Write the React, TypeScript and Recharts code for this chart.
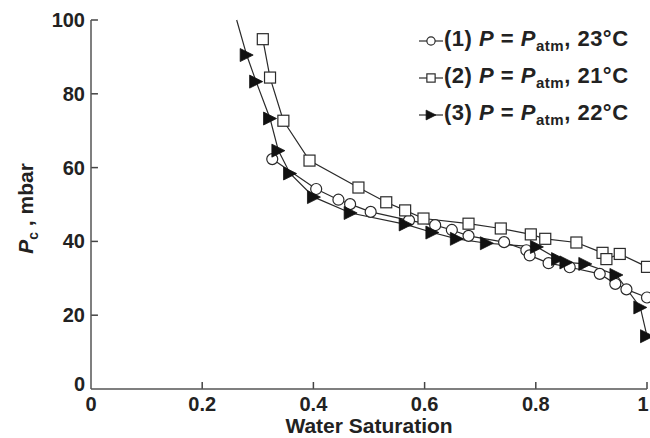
import React from 'react';
import { LineChart, Line, XAxis, YAxis, Legend, ReferenceLine } from 'recharts';

// water saturation (x) and capillary pressure Pc in mbar (y)
const sat1 = [0.326, 0.405, 0.445, 0.466, 0.503, 0.572, 0.619, 0.649, 0.679, 0.743, 0.783, 0.789, 0.823, 0.861, 0.915, 0.943, 0.963, 1.0];
const pc1 = [62.3, 54.2, 51.3, 50.1, 48.0, 45.7, 44.4, 43.1, 41.5, 39.8, 37.6, 36.2, 34.1, 33.0, 31.2, 28.5, 27.0, 24.8];

const sat2 = [0.309, 0.322, 0.346, 0.393, 0.481, 0.531, 0.565, 0.598, 0.679, 0.737, 0.791, 0.817, 0.873, 0.920, 0.927, 0.951, 1.0];
const pc2 = [94.8, 84.4, 72.7, 61.9, 54.6, 50.6, 48.4, 46.2, 44.8, 43.5, 41.9, 40.7, 39.7, 36.9, 35.2, 36.6, 33.1];

// first point is where the curve leaves the top of the plot (no marker)
const sat3 = [0.262, 0.280, 0.297, 0.322, 0.337, 0.358, 0.401, 0.467, 0.566, 0.614, 0.658, 0.712, 0.802, 0.840, 0.855, 0.889, 0.945, 0.988, 1.0];
const pc3 = [100, 90.5, 83.3, 73.3, 64.6, 58.4, 52.0, 47.7, 44.6, 42.4, 40.7, 39.5, 38.5, 35.2, 34.3, 33.9, 30.9, 22.1, 14.3];

const xTicks = [0, 0.2, 0.4, 0.6, 0.8, 1];
const yTicks = [0, 20, 40, 60, 80, 100];

const legendLabels = [
  { num: '(1)', temp: '23°C', marker: 'circle' },
  { num: '(2)', temp: '21°C', marker: 'square' },
  { num: '(3)', temp: '22°C', marker: 'triangle' },
];

const toPoints = (xs: number[], ys: number[]) => xs.map((x, i) => ({ x, y: ys[i] }));

const FONT = '"Liberation Sans", Arial, Helvetica, sans-serif';
const AXIS = '#555';
const INK = '#2a2a2a';
// inward tick marks (~7px) expressed in data units
const X_TICK_LEN = 0.0125;
const Y_TICK_LEN = 1.9;

const Marker = ({ kind, cx, cy, s = 1 }: { kind: string; cx: number; cy: number; s?: number }) => {
  if (kind === 'circle') {
    return <circle cx={cx} cy={cy} r={5.5 * s} fill="#fff" stroke={INK} strokeWidth={1.2} />;
  }
  if (kind === 'square') {
    const h = 5.5 * s;
    return <rect x={cx - h} y={cy - h} width={2 * h} height={2 * h} fill="#fff" stroke={INK} strokeWidth={1.2} />;
  }
  const w = 6.5 * s;
  return (
    <polygon
      points={`${cx - w},${cy - w} ${cx + w},${cy} ${cx - w},${cy + w}`}
      fill="#111"
      stroke="#111"
      strokeWidth={0.8}
    />
  );
};

const dotFor = (kind: string, skipFirst = false) => (props: any) => {
  const { cx, cy, index } = props;
  if (skipFirst && index === 0) return <g key={`d-${kind}-${index}`} />;
  return (
    <g key={`d-${kind}-${index}`}>
      <Marker kind={kind} cx={cx} cy={cy} />
    </g>
  );
};

const YTick = (props: any) => {
  const { x, y, payload } = props;
  // MATLAB puts the bottom zero a touch higher
  const shift = payload.value === 0 ? -5 : 0;
  return (
    <text x={x} y={y + shift} dy="0.35em" textAnchor="end" fontFamily={FONT} fontWeight="bold" fontSize={20} fill="#222">
      {payload.value}
    </text>
  );
};

const XTick = (props: any) => {
  const { x, y, payload } = props;
  // keep the last label inside the picture edge
  const nudge = payload.value === 1 ? -3 : 0;
  return (
    <text x={x + nudge} y={y} dy="0.71em" textAnchor="middle" fontFamily={FONT} fontWeight="bold" fontSize={20} fill="#222">
      {payload.value}
    </text>
  );
};

const XTitle = (props: any) => {
  const { x, y, width } = props.viewBox;
  return (
    <text x={x + width / 2} y={y + 37} dy="0.35em" textAnchor="middle" fontFamily={FONT} fontWeight="bold" fontSize={21} fill="#222">
      Water Saturation
    </text>
  );
};

const YTitle = (props: any) => {
  const { y, height } = props.viewBox;
  const cx = 26;
  const cy = y + height / 2 + 4;
  return (
    <text
      x={cx}
      y={cy}
      transform={`rotate(-90 ${cx} ${cy})`}
      dy="0.35em"
      textAnchor="middle"
      fontFamily={FONT}
      fontWeight="bold"
      fontSize={21}
      fill="#222"
    >
      <tspan fontStyle="italic">P</tspan>
      <tspan fontSize={14} dy={5}>c</tspan>
      <tspan dy={-5}> ,  mbar</tspan>
    </text>
  );
};

const renderLegend = () => (
  <div style={{ fontFamily: FONT, fontWeight: 'bold', fontSize: 22, color: '#222' }}>
    {legendLabels.map((item) => (
      <div key={item.num} style={{ display: 'flex', alignItems: 'center', height: 37, whiteSpace: 'nowrap' }}>
        <svg width={24} height={16} style={{ marginRight: 1 }}>
          <line x1={0} x2={24} y1={8} y2={8} stroke={INK} strokeWidth={1.2} />
          <Marker kind={item.marker} cx={12} cy={8} s={0.75} />
        </svg>
        <span style={{ letterSpacing: 0.5 }}>
          {item.num} <i>P</i> = <i>P</i>
          <sub style={{ fontSize: 15 }}>atm</sub>, {item.temp}
        </span>
      </div>
    ))}
  </div>
);

const App: React.FC = () => {
  return (
    <div style={{ position: 'absolute', left: 0, top: 0, width: 650, height: 438, background: '#fff' }}>
      <LineChart width={650} height={438} margin={{ top: 20, right: 3, left: 0, bottom: 0 }}>
        <XAxis
          type="number"
          dataKey="x"
          domain={[0, 1]}
          ticks={xTicks}
          height={49}
          stroke={AXIS}
          strokeWidth={1.5}
          tickSize={0}
          tickMargin={8}
          tickLine={false}
          tick={<XTick />}
          label={{ content: (p: any) => <XTitle {...p} /> }}
        />
        <YAxis
          type="number"
          dataKey="y"
          domain={[0, 100]}
          ticks={yTicks}
          width={91}
          stroke={AXIS}
          strokeWidth={1.5}
          tickSize={0}
          tickMargin={6}
          tickLine={false}
          tick={<YTick />}
          label={{ content: (p: any) => <YTitle {...p} /> }}
        />
        {xTicks.slice(1).map((t) => (
          <ReferenceLine
            key={`xt-${t}`}
            segment={[{ x: t, y: 0 }, { x: t, y: Y_TICK_LEN }]}
            stroke="#444"
            strokeWidth={1.5}
          />
        ))}
        {yTicks.slice(1).map((t) => (
          <ReferenceLine
            key={`yt-${t}`}
            segment={[{ x: 0, y: t }, { x: X_TICK_LEN, y: t }]}
            stroke="#444"
            strokeWidth={1.5}
          />
        ))}
        <Legend
          layout="horizontal"
          verticalAlign="middle"
          align="center"
          content={renderLegend}
          wrapperStyle={{ position: 'absolute', left: 419, top: 22, width: 'auto' }}
        />
        <Line
          data={toPoints(sat1, pc1)}
          dataKey="y"
          type="linear"
          stroke={INK}
          strokeWidth={1.2}
          dot={dotFor('circle')}
          isAnimationActive={false}
        />
        <Line
          data={toPoints(sat2, pc2)}
          dataKey="y"
          type="linear"
          stroke={INK}
          strokeWidth={1.2}
          dot={dotFor('square')}
          isAnimationActive={false}
        />
        <Line
          data={toPoints(sat3, pc3)}
          dataKey="y"
          type="linear"
          stroke={INK}
          strokeWidth={1.2}
          dot={dotFor('triangle', true)}
          isAnimationActive={false}
        />
      </LineChart>
    </div>
  );
};

export default App;
